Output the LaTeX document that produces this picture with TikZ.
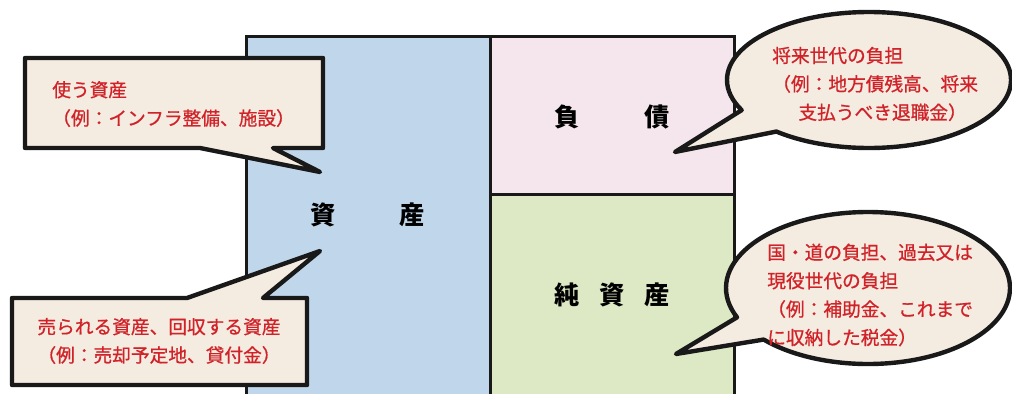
\documentclass[tikz,border=0pt]{standalone}
\usepackage{fontspec}
\newfontfamily\jp{Noto Sans CJK JP}
\newfontfamily\jpm{Noto Sans CJK JP}[FakeBold=0.8]
\usetikzlibrary{positioning, shapes.geometric, shapes.callouts}
\definecolor{shisan}{RGB}{192,215,235}
\definecolor{fusai}{RGB}{244,230,236}
\definecolor{junshisan}{RGB}{220,233,196}
\definecolor{fukidashi}{RGB}{244,235,225}
\definecolor{akaji}{RGB}{208,34,40}
\definecolor{sen}{RGB}{25,25,25}

\begin{document}
\begin{tikzpicture}[x=0.25mm, y=-0.25mm,
		waku/.style={draw=sen, line width=0.8mm, anchor=north west, inner sep=0pt},
		fuki/.style={draw=sen, line width=1.1mm, fill=fukidashi, line join=round},
		kuro/.style={font=\jp\bfseries\fontsize{18pt}{20pt}\selectfont, inner sep=0pt},
		aka/.style={font=\jpm\fontsize{13.3pt}{20.2pt}\selectfont, text=akaji, inner sep=0pt}]
		\clip (0,0) rectangle (1012,393);
		% 貸借対照表の枠
		\node[waku, fill=shisan, minimum width=61mm, minimum height=100mm] (A) at (245,35) {};
		\node[waku, fill=fusai, minimum width=61mm, minimum height=39.5mm] (F) at (489,35) {};
		\node[waku, fill=junshisan, minimum width=61mm, minimum height=60mm] (J) at (489,193) {};

		\node[kuro] (A_t) at (367.5,215) {資\hspace{15.9mm}産};
		\node[kuro] (F_t) at (612,117) {負\hspace{16.15mm}債};
		\node[kuro] (J_t) at (612,295) {純\hspace{4.9mm}資\hspace{4.9mm}産};

		% 吹き出し（左）
		\draw[fuki] (25,58) -- (323,58) -- (323,148) -- (273,148) -- (320,172) -- (200,148) -- (25,148) -- cycle;
		\draw[fuki] (12,298) -- (187,298) -- (320,251) -- (263,298) -- (307,298) -- (307,385) -- (12,385) -- cycle;
		\node[aka, anchor=west, align=left] (tsukau) at (52,104) {使う資産\\（例：インフラ整備、施設）};
		\node[aka, align=center] (urareru) at (159,341) {売られる資産、回収する資産\\（例：売却予定地、貸付金）};

		% 吹き出し（右）
		\node[fuki, ellipse callout, minimum width=71mm, minimum height=34mm, inner sep=0pt,
			callout absolute pointer={(675,152)}, callout pointer arc=23] (E_1) at (869,80) {};
		\node[fuki, ellipse callout, minimum width=71mm, minimum height=38mm, inner sep=0pt,
			callout absolute pointer={(676,354)}, callout pointer arc=20] (E_2) at (868,288) {};
		\node[aka, anchor=west, align=left] (shorai) at (772,84) {将来世代の負担\\（例：地方債残高、将来\\\hspace*{1.4em}支払うべき退職金）};
		\node[aka, anchor=west, align=left] (kuni) at (767,295) {国・道の負担、過去又は\\現役世代の負担\\（例：補助金、これまで\\に収納した税金）};
	\end{tikzpicture}
\end{document}
